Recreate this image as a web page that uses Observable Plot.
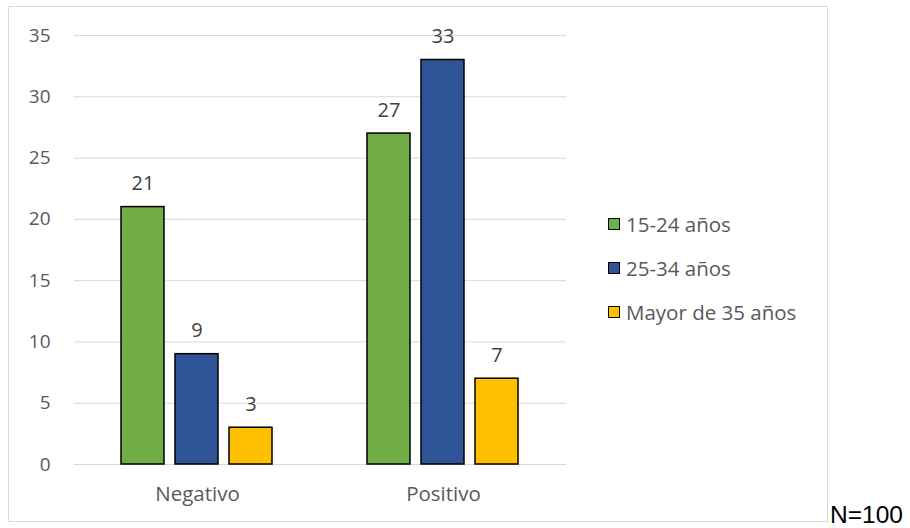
<!DOCTYPE html>
<html>
<head>
<meta charset="utf-8">
<script src="https://cdn.jsdelivr.net/npm/d3@7"></script>
<script src="https://cdn.jsdelivr.net/npm/@observablehq/plot@0.6"></script>
<style>
  html, body { margin: 0; padding: 0; background: #fff; width: 910px; height: 528px; overflow: hidden; }
  #box { position: absolute; left: 8px; top: 6px; width: 820px; height: 516px; border: 1px solid #d9d9d9; box-sizing: border-box; }
  #chart { position: absolute; left: 0; top: 0; }
  #chart svg g[aria-label^="y-axis"] { font-size: 19px; }
  #chart svg g[aria-label^="fx-axis"] { font-size: 20.5px; }
  #legend { position: absolute; left: 599px; top: 195px; font-family: "Open Sans", sans-serif; font-size: 20.5px; color: #595959; }
  .item { display: flex; align-items: center; height: 44px; }
  .sw { width: 10px; height: 10px; border: 1.5px solid #000; margin-right: 6px; }
  #n { position: absolute; left: 830px; top: 505px; font-family: "Liberation Sans", Arial, sans-serif; font-size: 24.5px; line-height: 0.8; color: #000; white-space: nowrap; }
</style>
</head>
<body>
<div id="box"><div id="chart"></div><div id="legend"></div></div>
<div id="n">N=100</div>
<script>
const categories = ["Negativo", "Positivo"];
const series = ["15-24 años", "25-34 años", "Mayor de 35 años"];
const negativo = [21, 9, 3];
const positivo = [27, 33, 7];
const colors = ["#70AD47", "#2F5597", "#FFC000"];
const yTicks = [0, 5, 10, 15, 20, 25, 30, 35];

const data = [];
series.forEach((s, i) => {
  data.push({cat: "Negativo", series: s, value: negativo[i]});
  data.push({cat: "Positivo", series: s, value: positivo[i]});
});

const chart = Plot.plot({
  width: 818,
  height: 512,
  marginLeft: 64,
  marginRight: 261,
  marginTop: 28,
  marginBottom: 55,
  style: {fontFamily: "'Open Sans', sans-serif", fontSize: "19px", color: "#595959", background: "transparent"},
  fx: {domain: categories, padding: 0, axis: "bottom", label: null, tickSize: 0, tickPadding: 22},
  x: {domain: series, axis: null, paddingInner: 0.2, paddingOuter: 0.84},
  y: {domain: [0, 35], ticks: yTicks, tickSize: 0, tickPadding: 24, label: null, line: false},
  color: {domain: series, range: colors},
  marks: [
    Plot.ruleY(yTicks, {stroke: "#d9d9d9", strokeWidth: 1}),
    Plot.barY(data, {fx: "cat", x: "series", y: "value", fill: "series", stroke: "#000", strokeWidth: 1.5}),
    Plot.text(data, {fx: "cat", x: "series", y: "value", text: d => String(d.value), lineAnchor: "bottom", dy: -17, fill: "#404040", fontSize: 20})
  ]
});
document.getElementById("chart").appendChild(chart);

const legend = document.getElementById("legend");
series.forEach((s, i) => {
  const item = document.createElement("div");
  item.className = "item";
  const sw = document.createElement("div");
  sw.className = "sw";
  sw.style.background = colors[i];
  const t = document.createElement("span");
  t.textContent = s;
  item.appendChild(sw);
  item.appendChild(t);
  legend.appendChild(item);
});
</script>
</body>
</html>
